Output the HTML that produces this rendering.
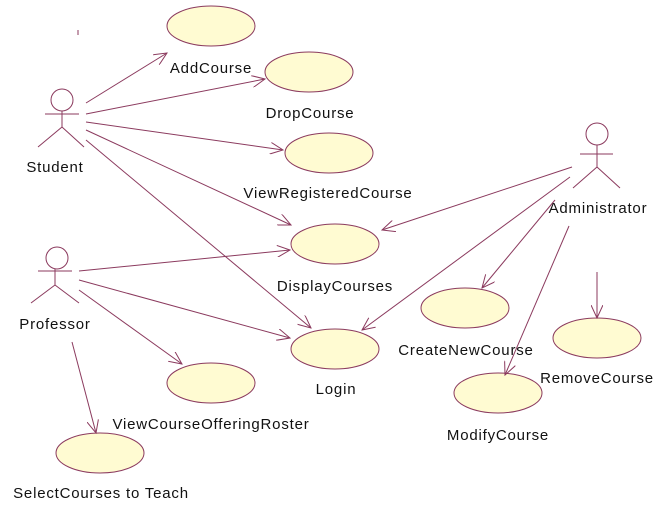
<!DOCTYPE html>
<html><head><style>
html,body{margin:0;padding:0;background:#fff;}
svg{display:block;}
text{font-family:"Liberation Sans",sans-serif;font-size:15px;letter-spacing:0.8px;fill:#111;}
</style></head><body>
<svg width="664" height="505" viewBox="0 0 664 505" xmlns="http://www.w3.org/2000/svg">
<defs>
<marker id="a" markerWidth="14" markerHeight="12" refX="13" refY="6" orient="auto" markerUnits="userSpaceOnUse">
<path d="M0,0 L13,6 L0,12" fill="none" stroke="#8b3a5e" stroke-width="1"/>
</marker>
</defs>
<g fill="#fffbd2" stroke="#8b3a5e" stroke-width="1">
<ellipse cx="211" cy="26" rx="44" ry="20"/>
<ellipse cx="309" cy="72" rx="44" ry="20"/>
<ellipse cx="329" cy="153" rx="44" ry="20"/>
<ellipse cx="335" cy="244" rx="44" ry="20"/>
<ellipse cx="335" cy="349" rx="44" ry="20"/>
<ellipse cx="465" cy="308" rx="44" ry="20"/>
<ellipse cx="597" cy="338" rx="44" ry="20"/>
<ellipse cx="498" cy="393" rx="44" ry="20"/>
<ellipse cx="211" cy="383" rx="44" ry="20"/>
<ellipse cx="100" cy="453" rx="44" ry="20"/>
</g>
<g stroke="#8b3a5e" stroke-width="1" fill="none">
<circle cx="62" cy="100" r="11"/>
<line x1="45" y1="114" x2="79" y2="114"/>
<line x1="62" y1="111" x2="62" y2="127"/>
<line x1="62" y1="127" x2="38" y2="147"/>
<line x1="62" y1="127" x2="84" y2="147"/>
<circle cx="57" cy="258" r="11"/>
<line x1="38" y1="271" x2="72" y2="271"/>
<line x1="55" y1="269" x2="55" y2="285"/>
<line x1="55" y1="285" x2="31" y2="303"/>
<line x1="55" y1="285" x2="79" y2="303"/>
<circle cx="597" cy="134" r="11"/>
<line x1="580" y1="154" x2="613" y2="154"/>
<line x1="597" y1="145" x2="597" y2="167"/>
<line x1="597" y1="167" x2="573" y2="188"/>
<line x1="597" y1="167" x2="620" y2="188"/>
<line x1="78" y1="30" x2="78" y2="35"/>
</g>
<g stroke="#8b3a5e" stroke-width="1" fill="none" marker-end="url(#a)">
<line x1="86" y1="103" x2="167" y2="53"/>
<line x1="86" y1="114" x2="265" y2="79"/>
<line x1="86" y1="122" x2="283" y2="150"/>
<line x1="86" y1="130" x2="291" y2="225"/>
<line x1="86" y1="140" x2="311" y2="328"/>
<line x1="79" y1="271" x2="290" y2="250"/>
<line x1="79" y1="280" x2="290" y2="338"/>
<line x1="79" y1="290" x2="182" y2="364"/>
<line x1="72" y1="342" x2="96" y2="433"/>
<line x1="572" y1="167" x2="382" y2="230"/>
<line x1="570" y1="177" x2="362" y2="330"/>
<line x1="555" y1="200" x2="482" y2="288"/>
<line x1="569" y1="226" x2="505" y2="375"/>
<line x1="597" y1="272" x2="597" y2="318"/>
</g>
<text x="211" y="73" text-anchor="middle">AddCourse</text>
<text x="310" y="118" text-anchor="middle">DropCourse</text>
<text x="328" y="198" text-anchor="middle">ViewRegisteredCourse</text>
<text x="335" y="291" text-anchor="middle">DisplayCourses</text>
<text x="336" y="394" text-anchor="middle">Login</text>
<text x="466" y="355" text-anchor="middle">CreateNewCourse</text>
<text x="597" y="383" text-anchor="middle">RemoveCourse</text>
<text x="498" y="440" text-anchor="middle">ModifyCourse</text>
<text x="211" y="429" text-anchor="middle">ViewCourseOfferingRoster</text>
<text x="101" y="498" text-anchor="middle">SelectCourses to Teach</text>
<text x="55" y="172" text-anchor="middle">Student</text>
<text x="55" y="329" text-anchor="middle">Professor</text>
<text x="598" y="213" text-anchor="middle">Administrator</text>
</svg>
</body></html>
